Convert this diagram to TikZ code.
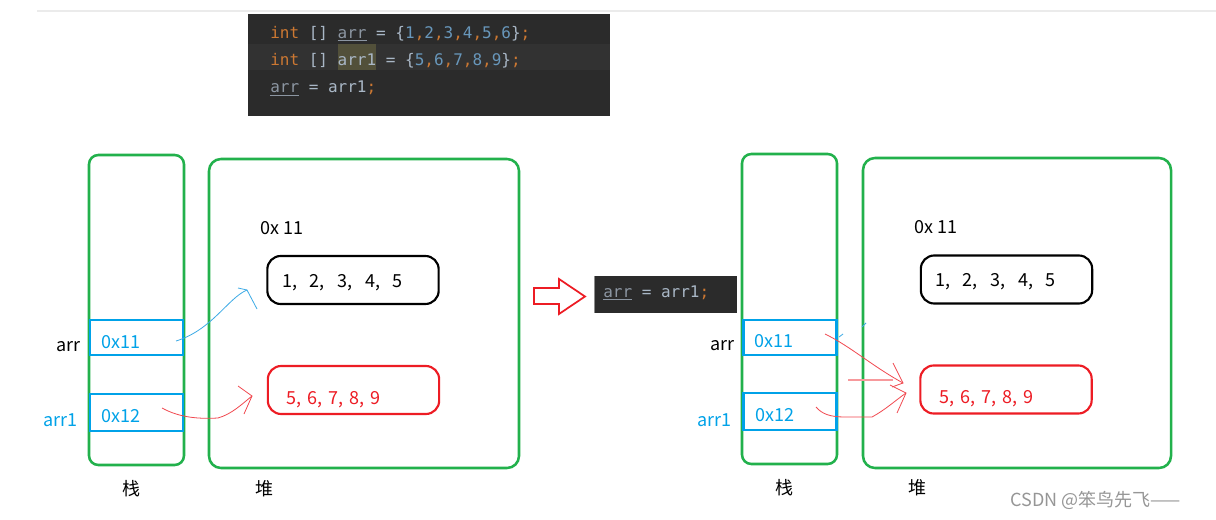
\documentclass[tikz,border=0pt]{standalone}
\usepackage{fontspec}
\setmainfont{Noto Sans CJK SC}
\newfontfamily\codefont{DejaVu Sans Mono}
\usetikzlibrary{calc}
\definecolor{grn}{RGB}{34,177,76}
\definecolor{bbox}{RGB}{0,162,232}
\definecolor{rd}{RGB}{237,28,36}
\definecolor{barr}{RGB}{60,170,230}
\definecolor{codebg}{RGB}{43,43,43}
\definecolor{codeband}{RGB}{50,50,50}
\definecolor{hl}{RGB}{82,80,58}
\definecolor{kw}{RGB}{204,120,50}
\definecolor{fg}{RGB}{169,183,198}
\definecolor{dimv}{RGB}{140,150,162}
\definecolor{num}{RGB}{104,151,187}
\definecolor{wm}{RGB}{150,150,150}
\newcommand\ckw[1]{\textcolor{kw}{#1}}
\newcommand\cfg[1]{\textcolor{fg}{#1}}
\newcommand\cnum[1]{\textcolor{num}{#1}}
\newcommand\cdim[1]{\textcolor{dimv}{\underline{#1}}}
\newcommand\gp{,\hspace{9.5pt}}
\newcommand\gq{,\hspace{4.5pt}}
\tikzset{
  stackbox/.style={draw=grn, line width=1.9pt, rounded corners=7pt, inner sep=0pt, outer sep=0pt},
  heapbox/.style={draw=grn, line width=1.9pt, rounded corners=9pt, inner sep=0pt, outer sep=0pt},
  varbox/.style={draw=bbox, line width=1.9pt, inner sep=0pt, outer sep=0pt, minimum width=70pt},
  arrbox/.style={line width=1.6pt, rounded corners=10pt, inner sep=0pt, outer sep=0pt, minimum width=128.5pt, minimum height=36pt},
  lbl/.style={inner sep=0pt, font=\fontsize{13.5}{16}\selectfont},
  code/.style={inner sep=0pt, font=\codefont\fontsize{12}{14}\selectfont},
  bluearr/.style={draw=barr, line width=0.6pt},
  redarr/.style={draw=rd!80, line width=0.6pt},
}
\begin{document}
\begin{tikzpicture}[x=0.75pt,y=-0.75pt]
\useasboundingbox (0,0) rectangle (1216,520);
\fill[white] (0,0) rectangle (1216,520);
% top grey line
\draw[black!8, line width=1.5pt] (37,11.5) -- (1216,11.5);

% code panel
\node[fill=codebg, inner sep=0pt, outer sep=0pt, minimum width=271.5pt, minimum height=76.5pt] (codebox) at (429,65) {};
\fill[codeband] (248,44) rectangle (610,70);
\node[code, anchor=base west] (c1) at (270,38.5) {\ckw{int} \cfg{[]} \cdim{arr} \cfg{=} \cfg{\{}\cnum{1}\ckw{,}\cnum{2}\ckw{,}\cnum{3}\ckw{,}\cnum{4}\ckw{,}\cnum{5}\ckw{,}\cnum{6}\cfg{\}}\ckw{;}};
\node[code, anchor=base west] (c2) at (270,65.5) {\ckw{int} \cfg{[]} {\setlength\fboxsep{0pt}\colorbox{hl}{\rule[-3.4pt]{0pt}{19.5pt}\cfg{arr1}}} \cfg{=} \cfg{\{}\cnum{5}\ckw{,}\cnum{6}\ckw{,}\cnum{7}\ckw{,}\cnum{8}\ckw{,}\cnum{9}\cfg{\}}\ckw{;}};
\node[code, anchor=base west] (c3) at (270,93) {\cdim{arr} \cfg{= arr1}\ckw{;}};

% ===== left diagram =====
\node[stackbox, minimum width=71.25pt, minimum height=232.5pt] (stackL) at (136.5,310) {};
\node[heapbox, minimum width=232.5pt, minimum height=231.75pt] (heapL) at (364,313.5) {};
\node[lbl, anchor=west] (hexL) at (260,228) {0x 11};
\node[arrbox, draw=black] (arrAL) at (353,280) {};
\node[lbl, anchor=west] at (282,283) {1\gp 2\gp 3\gp 4\gp 5};
\node[arrbox, draw=rd] (arrBL) at (353.5,390) {};
\node[lbl, anchor=west, text=rd] at (286,400) {5\gq 6\gq 7\gq 8\gq 9};
\node[varbox, minimum height=26.25pt] (arrL) at (136.5,337.5) {};
\node[lbl, anchor=west, text=bbox] at (101,342) {0x11};
\node[varbox, minimum height=27.75pt] (arr1L) at (136.5,412.5) {};
\node[lbl, anchor=west, text=bbox] at (101,416) {0x12};
\node[lbl, anchor=west] at (56,347) {arr};
\node[lbl, anchor=west, text=bbox] at (43,420) {arr1};
\node[lbl] at (131,489) {栈};
\node[lbl] at (264,489) {堆};

% left connectors
\coordinate (bsL) at (176,341);
\coordinate (btL) at (247,290);
\draw[bluearr] (bsL) .. controls (212,330) and (228,298) .. (btL);
\draw[bluearr] (238,288) -- (btL) -- (257,309);
\coordinate (rsL) at (162,408);
\coordinate (rtL) at (252,396);
\draw[redarr] (rsL) .. controls (180,418) and (200,419) .. (218,418) .. controls (232,414) and (242,404) .. (rtL);
\draw[redarr] (238,386) -- (rtL) -- (244,414);

% hollow arrow
\draw[rd, line width=1.3pt, line join=miter] (534,288) -- (559,288) -- (559,279) -- (585,296.5) -- (559,314) -- (559,304) -- (534,304) -- cycle;

% second code panel
\node[fill=codebg, inner sep=0pt, outer sep=0pt, minimum width=107.25pt, minimum height=27.75pt] (codebox2) at (665.5,294.5) {};
\draw[black!45, line width=0.8pt] (594.5,276) -- (594.5,313);
\node[code, anchor=base west] (c4) at (603,297) {\cdim{arr} \cfg{= arr1}\ckw{;}};

% ===== right diagram =====
\node[stackbox, minimum width=71.25pt, minimum height=232.5pt] (stackR) at (789.5,309) {};
\node[heapbox, minimum width=231pt, minimum height=232.5pt] (heapR) at (1017,313) {};
\node[lbl, anchor=west] (hexR) at (914,227) {0x 11};
\node[arrbox, draw=black] (arrAR) at (1006.5,279.5) {};
\node[lbl, anchor=west] at (935,282) {1\gp 2\gp 3\gp 4\gp 5};
\node[arrbox, draw=rd] (arrBR) at (1006,389.5) {};
\node[lbl, anchor=west, text=rd] at (939,399) {5\gq 6\gq 7\gq 8\gq 9};
\node[varbox, minimum height=26.25pt] (arrR) at (790,337.5) {};
\node[lbl, anchor=west, text=bbox] at (754,341) {0x11};
\node[varbox, minimum height=27.75pt] (arr1R) at (790,411.5) {};
\node[lbl, anchor=west, text=bbox] at (755,415) {0x12};
\node[lbl, anchor=west] at (710,346) {arr};
\node[lbl, anchor=west, text=bbox] at (697,420) {arr1};
\node[lbl] at (784,488) {栈};
\node[lbl] at (917,488) {堆};

% right connectors
\coordinate (rs1) at (825,334);
\coordinate (rt1) at (903,383);
\draw[redarr] (rs1) .. controls (850,346) and (872,366) .. (rt1);
\draw[redarr] (893,363) -- (rt1) -- (892,387);
\coordinate (rs2) at (816,407);
\coordinate (rt2) at (906,393);
\draw[redarr] (rs2) .. controls (822,414) and (830,417) .. (845,417) -- (872,417) .. controls (885,410) and (896,400) .. (rt2);
\draw[redarr] (890,385) -- (rt2) -- (897,413);
\draw[draw=rd!45, line width=0.8pt] (848,380) -- (893,380);
\draw[bluearr] (839,337) -- (843,334);
\draw[bluearr] (862,327) -- (866,323);

% watermark
\node[inner sep=0pt, anchor=west, text=wm, font=\fontsize{13.5}{16}\selectfont] (wmark) at (1010,500) {CSDN @笨鸟先飞——};
\end{tikzpicture}
\end{document}
